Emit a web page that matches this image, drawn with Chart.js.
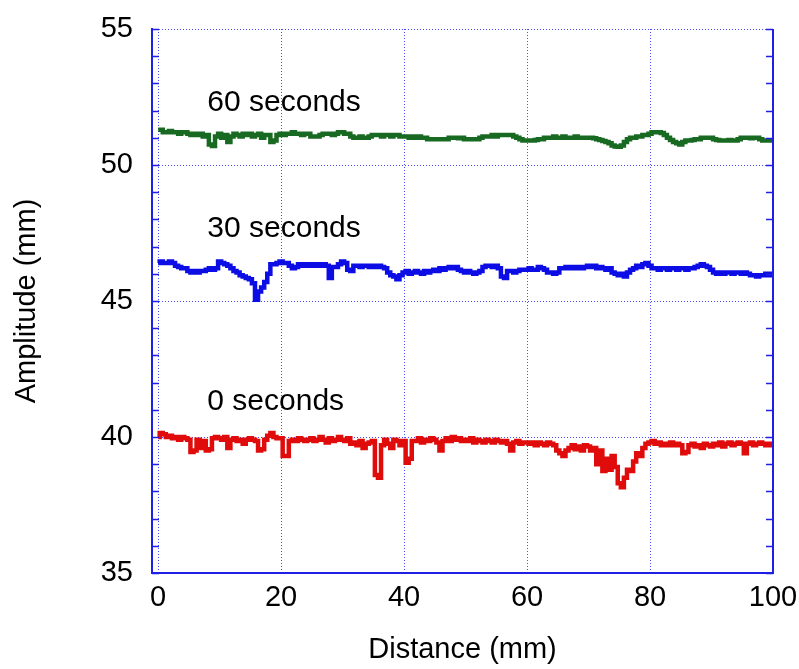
<!DOCTYPE html>
<html>
<head>
<meta charset="utf-8">
<title>Amplitude vs distance</title>
<script src="https://cdn.jsdelivr.net/npm/chart.js@4.4.1/dist/chart.umd.min.js"></script>
<style>
  html, body { margin: 0; padding: 0; background: #ffffff; }
  #wrap { width: 799px; height: 669px; }
</style>
</head>
<body>
<div id="wrap"><canvas id="chart" width="799" height="669"></canvas></div>
<script>
// Sampling positions along the specimen (mm), every 0.5 mm
const distance = Array.from({ length: 201 }, (_, i) => i * 0.5);

// Amplitude (mm) at each sampling position
const amp0s = [
  40.0, 40.15, 40.1, 40.0, 40.05, 39.95, 40.0, 39.9, 40.0, 39.95,
  39.9, 39.45, 39.5, 39.9, 39.6, 39.85, 39.5, 39.55, 39.95, 40.0,
  39.95, 39.9, 40.0, 39.6, 39.9, 39.95, 39.85, 39.9, 39.75, 39.9,
  39.95, 39.9, 39.85, 39.5, 39.55, 39.9, 40.05, 40.15, 40.0, 39.95,
  39.95, 39.3, 39.3, 39.85, 39.9, 39.85, 39.95, 39.9, 39.85, 39.9,
  39.95, 39.85, 39.9, 40.0, 39.9, 39.8, 39.95, 39.85, 39.9, 40.0,
  39.9, 39.85, 39.95, 39.75, 39.8, 39.7, 39.85, 39.6, 39.75, 39.8,
  39.85, 38.6, 38.5, 39.7, 39.9, 39.75, 39.6, 39.9, 39.85, 39.7,
  39.85, 39.05, 39.2, 39.85, 39.85, 39.95, 39.8, 39.9, 39.85, 39.95,
  39.9, 39.8, 39.5, 39.85, 39.95, 39.85, 40.0, 39.9, 39.95, 39.85,
  39.9, 39.85, 39.95, 39.8, 39.9, 39.85, 39.8, 39.9, 39.85, 39.8,
  39.9, 39.85, 39.8, 39.85, 39.75, 39.5, 39.8, 39.85, 39.75, 39.8,
  39.8, 39.75, 39.8, 39.7, 39.8, 39.75, 39.7, 39.8, 39.75, 39.7,
  39.5, 39.4, 39.3, 39.5, 39.6, 39.7, 39.55, 39.65, 39.5, 39.7,
  39.65, 39.5, 39.6, 39.0, 39.5, 38.75, 39.2, 38.8, 39.3, 38.9,
  38.3, 38.15, 38.5, 38.8, 38.75, 39.1, 39.4, 39.3, 39.6, 39.75,
  39.8, 39.85, 39.75, 39.8, 39.7, 39.75, 39.7, 39.8, 39.7, 39.75,
  39.7, 39.4, 39.45, 39.7, 39.75, 39.65, 39.7, 39.6, 39.75, 39.7,
  39.65, 39.75, 39.7, 39.8, 39.65, 39.75, 39.8, 39.7, 39.75, 39.8,
  39.75, 39.4, 39.75, 39.8, 39.7, 39.75, 39.8, 39.75, 39.7, 39.75,
  39.7
];

const amp30s = [
  46.4, 46.45, 46.4, 46.4, 46.45, 46.4, 46.3, 46.25, 46.2, 46.2,
  46.1, 46.05, 46.1, 46.05, 46.1, 46.1, 46.15, 46.2, 46.15, 46.2,
  46.45, 46.4, 46.35, 46.3, 46.2, 46.1, 46.05, 45.95, 45.9, 45.85,
  45.8, 45.65, 45.05, 45.35, 45.5, 45.7, 46.0, 46.35, 46.35, 46.4,
  46.45, 46.4, 46.4, 46.3, 46.2, 46.25, 46.35, 46.3, 46.35, 46.3,
  46.35, 46.3, 46.35, 46.3, 46.35, 46.3, 45.85, 46.25, 46.25, 46.35,
  46.45, 46.4, 46.15, 46.1, 46.3, 46.3, 46.25, 46.3, 46.3, 46.25,
  46.3, 46.25, 46.3, 46.25, 46.2, 46.05, 45.95, 45.9, 45.8, 45.95,
  46.05, 46.1, 46.0, 46.05, 46.1, 46.05, 46.0, 46.1, 46.05, 46.1,
  46.15, 46.1, 46.2, 46.15, 46.2, 46.25, 46.2, 46.25, 46.15, 46.1,
  46.05, 46.1, 46.05, 46.0, 46.05, 46.1, 46.25, 46.3, 46.3, 46.25,
  46.3, 46.2, 45.9, 45.85, 46.1, 46.1, 46.05, 46.1, 46.15, 46.15,
  46.15, 46.2, 46.15, 46.15, 46.25, 46.2, 46.15, 46.05, 46.05, 46.0,
  46.05, 46.2, 46.2, 46.25, 46.2, 46.25, 46.2, 46.25, 46.2, 46.25,
  46.3, 46.25, 46.3, 46.2, 46.25, 46.2, 46.15, 46.2, 46.05, 46.0,
  45.95, 46.0, 45.9, 46.05, 46.15, 46.2, 46.3, 46.25, 46.35, 46.4,
  46.3, 46.2, 46.2, 46.15, 46.2, 46.2, 46.15, 46.2, 46.2, 46.15,
  46.2, 46.2, 46.15, 46.2, 46.2, 46.25, 46.3, 46.35, 46.3, 46.25,
  46.15, 46.05, 46.0, 46.05, 46.0, 46.05, 46.05, 46.0, 46.05, 46.05,
  46.0, 46.05, 46.0, 45.95, 45.95, 45.9, 45.95, 45.95, 46.0, 45.95,
  46.0
];

const amp60s = [
  51.3, 51.3, 51.2, 51.2, 51.25, 51.2, 51.2, 51.15, 51.2, 51.2,
  51.15, 51.1, 51.15, 51.1, 51.15, 51.05, 51.1, 50.75, 50.7, 51.05,
  51.15, 51.0, 51.1, 50.85, 51.05, 51.15, 51.1, 51.05, 51.15, 51.1,
  51.15, 51.05, 51.1, 51.15, 51.0, 51.1, 51.1, 50.85, 50.9, 51.1,
  51.15, 51.1, 51.15, 51.15, 51.2, 51.15, 51.15, 51.1, 51.15, 51.15,
  51.05, 51.05, 51.05, 51.1, 51.15, 51.15, 51.15, 51.1, 51.15, 51.2,
  51.2, 51.15, 51.15, 51.05, 51.0, 51.0, 51.05, 51.0, 51.0, 51.05,
  51.1, 51.1, 51.1, 51.05, 51.1, 51.1, 51.05, 51.1, 51.1, 51.05,
  51.05, 51.05, 51.0, 51.05, 51.0, 51.05, 51.0, 51.0, 50.95, 50.95,
  50.95, 50.95, 50.95, 50.95, 50.95, 51.0, 51.0, 51.0, 50.98, 51.0,
  50.95, 50.95, 50.95, 50.95, 50.95, 51.0, 51.05, 51.05, 51.05, 51.1,
  51.05, 51.1, 51.1, 51.1, 51.1, 51.1, 51.05, 51.0, 50.95, 50.9,
  50.9, 50.9, 50.9, 50.92, 50.95, 50.95, 51.0, 51.0, 51.0, 51.05,
  51.0, 51.0, 51.05, 51.0, 51.0, 51.0, 51.05, 51.0, 51.0, 51.0,
  51.0, 51.0, 50.98, 50.95, 50.92, 50.88, 50.85, 50.8, 50.72, 50.68,
  50.67, 50.72, 50.85, 50.95, 51.0, 51.0, 51.05, 51.05, 51.1, 51.1,
  51.15, 51.2, 51.2, 51.2, 51.18, 51.1, 51.0, 50.92, 50.85, 50.8,
  50.75, 50.85, 50.9, 50.9, 50.92, 50.95, 50.95, 51.0, 51.0, 51.0,
  51.0, 50.95, 50.92, 50.9, 50.9, 50.9, 50.92, 50.9, 50.9, 50.95,
  51.0, 51.0, 51.0, 50.98, 51.0, 51.0, 50.95, 50.9, 50.9, 50.9,
  50.9
];

const seriesNames = ['0 seconds', '30 seconds', '60 seconds'];
const xTickValues = [0, 20, 40, 60, 80, 100];
const yTickValues = [35, 40, 45, 50, 55];

const FONT_FAMILY = "'Liberation Sans', Arial, sans-serif";
const AXIS_BLUE = '#1f1fe6';
const GRID_BLUE = '#4a4aff';

const toPoints = (ys) => distance.map((x, i) => ({ x, y: ys[i] }));

// Text placed next to each curve, plus minor ticks and the right-hand frame
const annotations = {
  id: 'annotations',
  afterDraw(chart, args, opts) {
    const { ctx, chartArea: a, scales: { x, y } } = chart;
    ctx.save();
    // right frame line
    ctx.strokeStyle = AXIS_BLUE;
    ctx.lineWidth = 2;
    ctx.beginPath();
    ctx.moveTo(a.right, a.top);
    ctx.lineTo(a.right, a.bottom + 1);
    ctx.stroke();
    // inward ticks every 1 mm on both vertical axes
    ctx.lineWidth = 1.5;
    for (let v = y.min; v <= y.max; v += 1) {
      const py = Math.round(y.getPixelForValue(v)) + 0.5;
      ctx.beginPath();
      ctx.moveTo(a.left, py);
      ctx.lineTo(a.left + 7, py);
      ctx.moveTo(a.right, py);
      ctx.lineTo(a.right - 7, py);
      ctx.stroke();
    }
    // curve labels
    ctx.fillStyle = '#000000';
    ctx.font = '30px ' + FONT_FAMILY;
    ctx.textAlign = 'left';
    ctx.textBaseline = 'middle';
    opts.items.forEach((it, i) => {
      ctx.fillText(seriesNames[i], x.getPixelForValue(it.x), y.getPixelForValue(it.y));
    });
    ctx.restore();
  }
};

new Chart(document.getElementById('chart'), {
  type: 'line',
  data: {
    datasets: [
      { label: seriesNames[0], data: toPoints(amp0s), borderColor: '#e00b0b' },
      { label: seriesNames[1], data: toPoints(amp30s), borderColor: '#0c0ce4' },
      { label: seriesNames[2], data: toPoints(amp60s), borderColor: '#186a22' }
    ]
  },
  options: {
    responsive: false,
    animation: false,
    devicePixelRatio: 1,
    layout: { padding: { top: 29, right: 26, bottom: 0, left: 0 } },
    elements: {
      line: { borderWidth: 4.5, tension: 0, stepped: 'middle', borderJoinStyle: 'miter', borderCapStyle: 'butt' },
      point: { radius: 0, hoverRadius: 0 }
    },
    plugins: {
      legend: { display: false },
      tooltip: { enabled: false },
      annotations: {
        items: [
          { x: 8, y: 41.3 },
          { x: 8, y: 47.65 },
          { x: 8, y: 52.3 }
        ]
      }
    },
    scales: {
      x: {
        type: 'linear',
        min: -1,
        max: 100,
        afterBuildTicks: (s) => { s.ticks = xTickValues.map(v => ({ value: v })); },
        afterFit: (s) => { s.height = 96; s.paddingLeft = 0; s.paddingRight = 0; },
        grid: { color: GRID_BLUE, lineWidth: 1, drawTicks: false },
        border: { display: true, color: AXIS_BLUE, width: 2, dash: [1, 2] },
        ticks: { color: '#000000', padding: 8, maxRotation: 0, font: { family: FONT_FAMILY, size: 29 } },
        title: {
          display: true, text: 'Distance (mm)', color: '#000000',
          padding: { top: 0, bottom: 2 },
          font: { family: FONT_FAMILY, size: 29 }
        }
      },
      y: {
        type: 'linear',
        min: 35,
        max: 55,
        afterBuildTicks: (s) => { s.ticks = yTickValues.map(v => ({ value: v })); },
        afterFit: (s) => { s.width = 152; s.paddingTop = 0; s.paddingBottom = 0; },
        grid: { color: GRID_BLUE, lineWidth: 1, drawTicks: false },
        border: { display: true, color: AXIS_BLUE, width: 2, dash: [1, 2] },
        ticks: { color: '#000000', padding: 19, font: { family: FONT_FAMILY, size: 29 } },
        title: {
          display: true, text: 'Amplitude (mm)', color: '#000000',
          padding: { top: 10, bottom: 0 },
          font: { family: FONT_FAMILY, size: 29 }
        }
      }
    }
  },
  plugins: [annotations]
});
</script>
</body>
</html>
